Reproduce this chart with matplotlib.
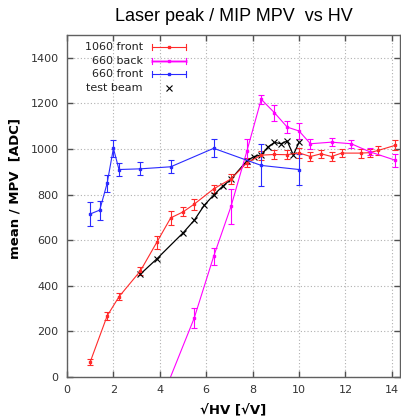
import matplotlib
matplotlib.use("Agg")
import matplotlib.pyplot as plt
from matplotlib.lines import Line2D

# ---- data ----
red_x = [1.0, 1.73, 2.24, 3.16, 3.87, 4.47, 5.0, 5.48, 6.32, 7.07, 7.75, 8.37, 8.94,
         9.49, 10.0, 10.49, 10.95, 11.4, 11.83, 12.65, 13.04, 13.42, 14.14]
red_y = [66, 268, 352, 465, 591, 698, 724, 758, 825, 869, 939, 973, 976,
         975, 983, 967, 979, 967, 982, 982, 984, 994, 1016]
red_err = [13, 16, 15, 18, 28, 31, 20, 24, 16, 23, 20, 20, 20,
           20, 22, 20, 18, 20, 18, 20, 18, 21, 22]

mag_x = [3.87, 5.48, 6.32, 7.07, 7.75, 8.37, 8.94, 9.49, 10.0, 10.49, 11.4, 12.25, 13.04, 14.14]
mag_y = [-150, 258, 529, 749, 990, 1218, 1159, 1096, 1079, 1023, 1030, 1023, 988, 951]
mag_err = [40, 45, 37, 77, 54, 20, 35, 27, 35, 22, 18, 17, 16, 28]

blue_x = [1.0, 1.41, 1.73, 2.0, 2.24, 3.16, 4.47, 6.32, 8.37, 10.0]
blue_y = [715, 732, 850, 1003, 910, 913, 922, 1003, 928, 910]
blue_err = [53, 42, 37, 37, 29, 29, 28, 40, 92, 70]

tb_x = [3.16, 3.87, 5.0, 5.48, 5.92, 6.32, 6.71, 7.07, 7.75, 8.06, 8.37, 8.66,
        8.94, 9.22, 9.49, 9.75, 10.0]
tb_y = [451, 518, 632, 687, 754, 798, 837, 868, 948, 967, 974, 1009,
        1029, 1023, 1035, 974, 1029]

labels = ["1060 front", "660 back", "660 front", "test beam"]
xticks = [0, 2, 4, 6, 8, 10, 12, 14]
yticks = [0, 200, 400, 600, 800, 1000, 1200, 1400]

RED = "#ff2a2a"
MAG = "#ff00ff"
BLUE = "#2a2aff"
BLK = "#000000"

fig = plt.figure(figsize=(4.01, 4.18), dpi=100)
ax = fig.add_axes([67 / 401, 1 - 377 / 418, 333 / 401, 342 / 418])

ekw = dict(lw=0.8, ms=2.0, marker="s", capsize=2.3, elinewidth=0.8, capthick=0.8)
ax.errorbar(red_x, red_y, yerr=red_err, color=RED, **ekw)
ax.errorbar(mag_x, mag_y, yerr=mag_err, color=MAG, **ekw)
ax.errorbar(blue_x, blue_y, yerr=blue_err, color=BLUE, **ekw)
ax.plot(tb_x, tb_y, color=BLK, lw=0.9, marker="x", ms=4, mew=0.8)

ax.set_xlim(0, 14.35)
ax.set_ylim(0, 1500)
ax.set_xticks(xticks)
ax.set_yticks(yticks)
ax.grid(True, color="#b0b0b0", linestyle=(0, (1, 2)), lw=0.8)
ax.set_axisbelow(True)
ax.tick_params(direction="in", length=4, width=1, colors="#505050", labelcolor="#333333",
               labelsize=8, top=True, right=True, pad=6)
for s in ax.spines.values():
    s.set_color("#606060")
    s.set_linewidth(1)

ax.set_title("Laser peak / MIP MPV  vs HV", fontsize=13, family="Liberation Sans", pad=10)
ax.set_ylabel("mean / MPV  [ADC]", fontsize=9.5, fontweight="bold")
ax.yaxis.set_label_coords(-0.138, 0.55)
ax.set_xlabel("√HV [√V]", fontsize=9.5, fontweight="bold")
ax.xaxis.set_label_coords(0.5, -0.080)

# ---- gnuplot-style legend (text right-aligned, sample to the right) ----
tx = 0.228
rows = [0.966, 0.924, 0.885, 0.846]
x0, x1, xc = 0.254, 0.356, 0.305
cols = [RED, MAG, BLUE]
tr = ax.transAxes
for i, (lab, yy) in enumerate(zip(labels, rows)):
    ax.text(tx, yy, lab, transform=tr, ha="right", va="center", fontsize=8, color="#222222")
    if i < 3:
        c = cols[i]
        if i == 1:
            ax.add_line(Line2D([x0, x1], [yy, yy], transform=tr, color="#ff99ff", lw=2.2))
        ax.add_line(Line2D([x0, x1], [yy, yy], transform=tr, color=c, lw=0.8))
        for xe in (x0, x1):
            ax.add_line(Line2D([xe, xe], [yy - 0.009, yy + 0.009], transform=tr, color=c, lw=0.8))
        ax.add_line(Line2D([xc], [yy], transform=tr, color=c, marker="s", ms=2.0, lw=0))
    else:
        ax.add_line(Line2D([xc], [yy], transform=tr, color=BLK, marker="x", ms=4, mew=0.8, lw=0))

fig.savefig("out.png", dpi=100)
